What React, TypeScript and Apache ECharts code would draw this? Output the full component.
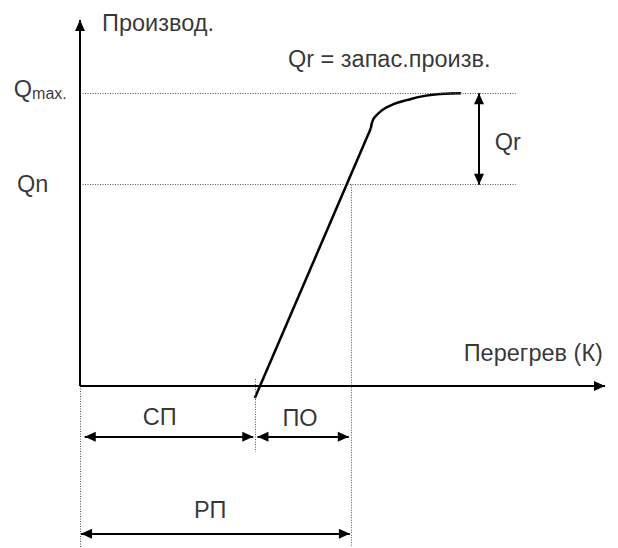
import React, { useEffect, useRef } from "react";
import * as echarts from "echarts";

// ---------- data (chart units: x = superheat, y = production) ----------
const axisXEnd = 100;
const axisYEnd = 100;
const qMax = 80;
const qN = 55;
const guideEnd = 83;
const straightPart: number[][] = [
  [33.3, -3.3],
  [55.4, 70.4],
];
const bendPart: number[][] = [
  [55.4, 70.4],
  [55.8, 72.7],
  [56.5, 74.0],
  [57.8, 75.6],
  [59.7, 77.0],
  [62.2, 78.1],
  [65.4, 79.2],
  [68.6, 79.8],
  [72.6, 80.0],
];
const spEdge = 33.3; // end of СП / start of ПО
const rpEdge = 51.6; // end of ПО and РП
const qrArrowX = 76;
const dimRowY = -13.9;
const rpRowY = -40.4;
const bottomY = -44.0;
const spTickTop = 1.9;
const spTickBottom = -18;

const labelTexts = ["Производ.", "Qr = запас.произв.", "{q|Q}{s|max.}", "Qn", "Qr", "Перегрев (К)", "СП", "ПО", "РП"];
const labelX = [4.2, 39.6, -12.6, -12.0, 81.5, 99.6, 15.2, 41.9, 24.8];
const labelY = [99.3, 89.3, 81.1, 55.3, 66.7, 9.0, -8.5, -8.7, -33.9];
const labelAlign = ["left", "left", "left", "left", "center", "right", "center", "center", "center"];

// ---------- layout ----------
const W = 618;
const H = 548;
const ORIGIN_PX = [80, 386];
const PX_PER_X = 5.25;
const PX_PER_Y = 3.66;
const FONT = "'Liberation Sans', Arial, sans-serif";
const FONT_SIZE = 23.5;

export default function App() {
  const ref = useRef<HTMLDivElement>(null);
  useEffect(() => {
    if (!ref.current) return;
    const chart = echarts.init(ref.current, null, { renderer: "svg" });
    const xMin = -ORIGIN_PX[0] / PX_PER_X;
    const xMax = (W - ORIGIN_PX[0]) / PX_PER_X;
    const yMin = -(H - ORIGIN_PX[1]) / PX_PER_Y;
    const yMax = ORIGIN_PX[1] / PX_PER_Y;

    const arrowHead = { symbol: "triangle", symbolSize: [10, 11], symbolOffset: [0, "50%"] };
    const noHead = { symbol: "none" };
    const solid = { color: "#000", width: 2, type: "solid" };
    const dotted = { color: "#555", width: 1, type: [1, 1.5] };

    const line = (a: number[], b: number[], s: any, e: any, style: any) => [
      { coord: a, ...s, lineStyle: style },
      { coord: b, ...e },
    ];

    const labelPos = (align: string) =>
      align === "left" ? "right" : align === "right" ? "left" : "inside";

    chart.setOption({
      animation: false,
      textStyle: { fontFamily: FONT },
      grid: { left: 0, right: 0, top: 0, bottom: 0, containLabel: false },
      xAxis: { type: "value", min: xMin, max: xMax, show: false },
      yAxis: { type: "value", min: yMin, max: yMax, show: false },
      series: [
        {
          type: "line",
          name: "guides",
          data: [],
          color: "#000",
          markLine: {
            silent: true,
            animation: false,
            label: { show: false },
            emphasis: { disabled: true },
            data: [
              line([0, qMax], [guideEnd, qMax], noHead, noHead, dotted),
              line([0, qN], [guideEnd, qN], noHead, noHead, dotted),
              line([0, 0], [0, bottomY], noHead, noHead, dotted),
              line([spEdge, spTickTop], [spEdge, spTickBottom], noHead, noHead, dotted),
              line([rpEdge, qN], [rpEdge, bottomY], noHead, noHead, dotted),
            ],
          },
        },
        {
          type: "line",
          name: "axes",
          data: [],
          color: "#000",
          markLine: {
            silent: true,
            animation: false,
            label: { show: false },
            emphasis: { disabled: true },
            data: [
              line([0, 0], [axisXEnd, 0], noHead, arrowHead, solid),
              line([0, 0], [0, axisYEnd], noHead, arrowHead, solid),
              line([qrArrowX, qMax], [qrArrowX, qN], arrowHead, arrowHead, solid),
              line([0.9, dimRowY], [spEdge - 0.3, dimRowY], arrowHead, arrowHead, solid),
              line([spEdge + 0.5, dimRowY], [rpEdge - 0.4, dimRowY], arrowHead, arrowHead, solid),
              line([0.2, rpRowY], [rpEdge - 0.2, rpRowY], arrowHead, arrowHead, solid),
            ],
          },
        },
        {
          type: "line",
          name: "straight",
          data: straightPart,
          symbol: "none",
          clip: false,
          lineStyle: { color: "#000", width: 2.5 },
        },
        {
          type: "line",
          name: "bend",
          data: bendPart,
          symbol: "none",
          clip: false,
          smooth: 0.5,
          lineStyle: { color: "#000", width: 2.5 },
        },
        {
          type: "scatter",
          name: "labels",
          symbolSize: 0,
          silent: true,
          clip: false,
          data: labelTexts.map((t, i) => ({
            value: [labelX[i], labelY[i]],
            label: {
              show: true,
              formatter: t,
              position: labelPos(labelAlign[i]),
              distance: 0,
              color: "#000",
              fontSize: FONT_SIZE,
              fontFamily: FONT,
              rich: {
                q: { fontSize: FONT_SIZE, fontFamily: FONT, color: "#000", verticalAlign: "bottom" },
                s: { fontSize: 16, fontFamily: FONT, color: "#000", verticalAlign: "bottom" },
              },
            },
          })),
        },
      ],
    });
    return () => chart.dispose();
  }, []);
  return (
    <div
      ref={ref}
      style={{ position: "absolute", left: 0, top: 0, width: W, height: H, background: "#fff" }}
    />
  );
}
